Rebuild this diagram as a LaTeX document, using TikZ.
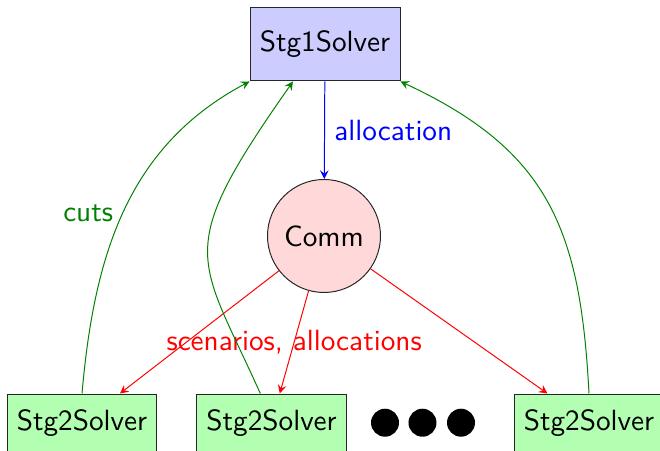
\documentclass[tikz,border=0pt]{standalone}
\usepackage{tikz}
\usetikzlibrary{arrows}
\renewcommand{\familydefault}{\sfdefault}

\tikzset{
    solverone/.style={rectangle, draw=black!85, fill=blue!20, minimum width=1.875cm, minimum height=0.9125cm},
    solvertwo/.style={rectangle, draw=black!85, fill=green!30, minimum width=1.87cm, minimum height=0.72cm},
    commnode/.style={circle, draw=black!85, fill=red!15, minimum size=1.4125cm, inner sep=0pt},
    cutline/.style={->, >=stealth, green!50!black},
    alloline/.style={->, >=stealth, blue},
    scenline/.style={->, >=stealth, red}
}

\begin{document}
\begin{tikzpicture}[font=\fontsize{10.4pt}{12.5pt}\selectfont, line width=0.35pt]
        \useasboundingbox (0,0) rectangle (8.25,-5.6375);
        \node (stg1) at (4.0625,-0.556) [solverone] {Stg1Solver};
        \node (comm) at (4.05,-2.95) [commnode] {Comm};
        \node (stga) at (1.025,-5.285) [solvertwo] {Stg2Solver};
        \node (stgb) at (3.394,-5.285) [solvertwo] {Stg2Solver};
        \node (stgc) at (7.3625,-5.285) [solvertwo] {Stg2Solver};
        \foreach \x in {4.8125,5.281,5.7625}
            \fill (\x,-5.284) circle (0.175);
        % allocation down to the communicator
        \draw[alloline] (stg1) -- (comm) node[midway,right,blue] {allocation};
        % scenarios out to the second stage
        \draw[scenline] (comm) -- (stga);
        \draw[scenline] (comm) -- (stgb) node[midway,red] {scenarios, allocations};
        \draw[scenline] (comm) -- (stgc);
        % cuts back up
        \draw[cutline] (stga.north) to[out=85,in=-152] node[pos=0.49,left] {cuts} (stg1.south west);
        \draw[cutline] ([xshift=-0.14cm]stgb.north) .. controls +(-0.78,1.74) and +(-1.51,-2.15) .. ([xshift=-0.4cm]stg1.south);
        \draw[cutline] (stgc.north) to[out=93,in=-25,looseness=1.15] (stg1.south east);
    \end{tikzpicture}
\end{document}
